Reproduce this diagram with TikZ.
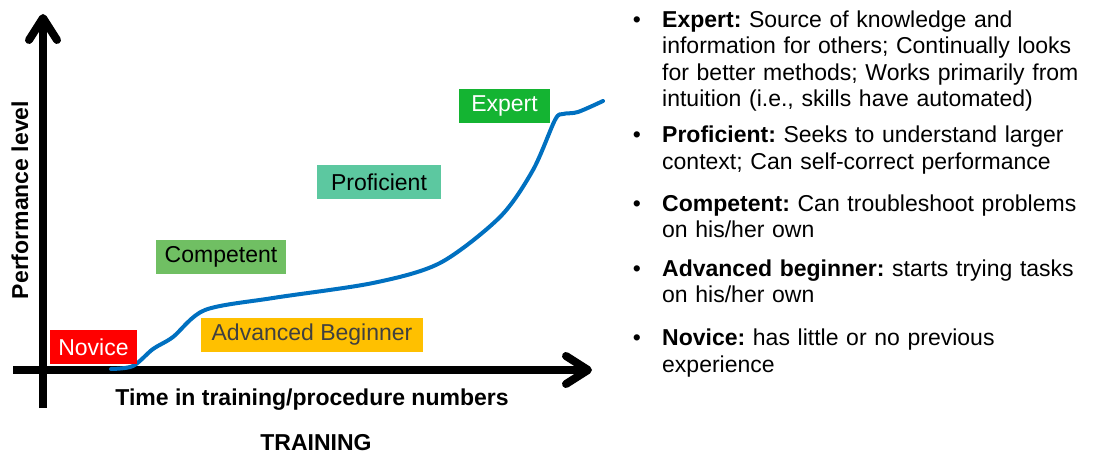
\documentclass[tikz,border=0pt]{standalone}
\usepackage{fontspec}
\setmainfont{Liberation Sans}
\usetikzlibrary{arrows.meta,positioning}

\definecolor{novicered}{HTML}{FF0000}
\definecolor{advorange}{HTML}{FFC000}
\definecolor{advtext}{HTML}{404040}
\definecolor{compgreen}{HTML}{70BF63}
\definecolor{profteal}{HTML}{5CC8A0}
\definecolor{expgreen}{HTML}{14B432}
\definecolor{curveblue}{HTML}{0070C0}

\newcommand{\descfont}{\fontsize{23}{26.5}\selectfont\frenchspacing}

\begin{document}
\begin{tikzpicture}[x=1pt, y=-1pt,
	axis/.style = {line width=8pt, -{Straight Barb[length=22pt,width=28pt,round]}},
	curve/.style = {line width=4pt, draw=curveblue, line join=round, line cap=round},
	stage/.style = {minimum height=34pt, inner sep=0pt, font=\descfont},
	axislabel/.style = {font=\descfont\bfseries, inner sep=0pt},
	desc/.style = {anchor=north west, text width=450pt, align=left, inner sep=0pt,
		font=\descfont, execute at begin node=\strut, execute at end node=\strut,
		label={[anchor=north east, inner sep=0pt, font=\descfont]north west:\makebox[29pt][l]{\strut\textbullet}}}
]
\useasboundingbox (0,0) rectangle (1111,457);

% axes
\coordinate (yfoot) at (43,408);
\coordinate (ytip) at (43,14);
\coordinate (xfoot) at (13,370);
\coordinate (xtip) at (592,370);
\draw [axis] (yfoot) -- (ytip);
\draw [axis] (xfoot) -- (xtip);

\node [axislabel, rotate=90] (ylab) at (20,200) {Performance level};
\node [axislabel] (xlab) at (312,400) {Time in training/procedure numbers};
\node [axislabel] (title) at (316,443) {TRAINING};

% learning curve
\draw [curve] plot [smooth, tension=0.5] coordinates {
	(111,369) (133,366) (153,349) (173,337) (205,310) (273,298) (373,283)
	(440,263) (500,217) (533,170) (555,120) (563,114) (578,112) (603,101)};

% stages
\node [stage, fill=novicered, text=white, minimum width=87pt] (novice) at (93.5,347) {Novice};
\node [stage, fill=advorange, text=advtext, minimum width=222pt] (advanced) at (312,334.5) {Advanced Beginner};
\node [stage, fill=compgreen, minimum width=130pt] (competent) at (221,257) {Competent};
\node [stage, fill=profteal, minimum width=124pt] (proficient) at (379,182.5) {Proficient};
\node [stage, fill=expgreen, text=white, minimum width=91pt] (expert) at (504.5,106) {Expert};

% descriptions
\node [desc] (dExpert) at (662,8.5) {\textbf{Expert:} Source of knowledge and\\
	information for others; Continually looks\\
	for better methods; Works primarily from\\
	intuition (i.e., skills have automated)};
\node [desc, below=9pt of dExpert.south west, anchor=north west] (dProficient)
	{\textbf{Proficient:} Seeks to understand larger\\ context; Can self-correct performance};
\node [desc, below=15pt of dProficient.south west, anchor=north west] (dCompetent)
	{\textbf{Competent:} Can troubleshoot problems\\ on his/her own};
\node [desc, below=12pt of dCompetent.south west, anchor=north west] (dAdvanced)
	{\textbf{Advanced beginner:} starts trying tasks\\ on his/her own};
\node [desc, below=16pt of dAdvanced.south west, anchor=north west] (dNovice)
	{\textbf{Novice:} has little or no previous\\ experience};
\end{tikzpicture}
\end{document}
